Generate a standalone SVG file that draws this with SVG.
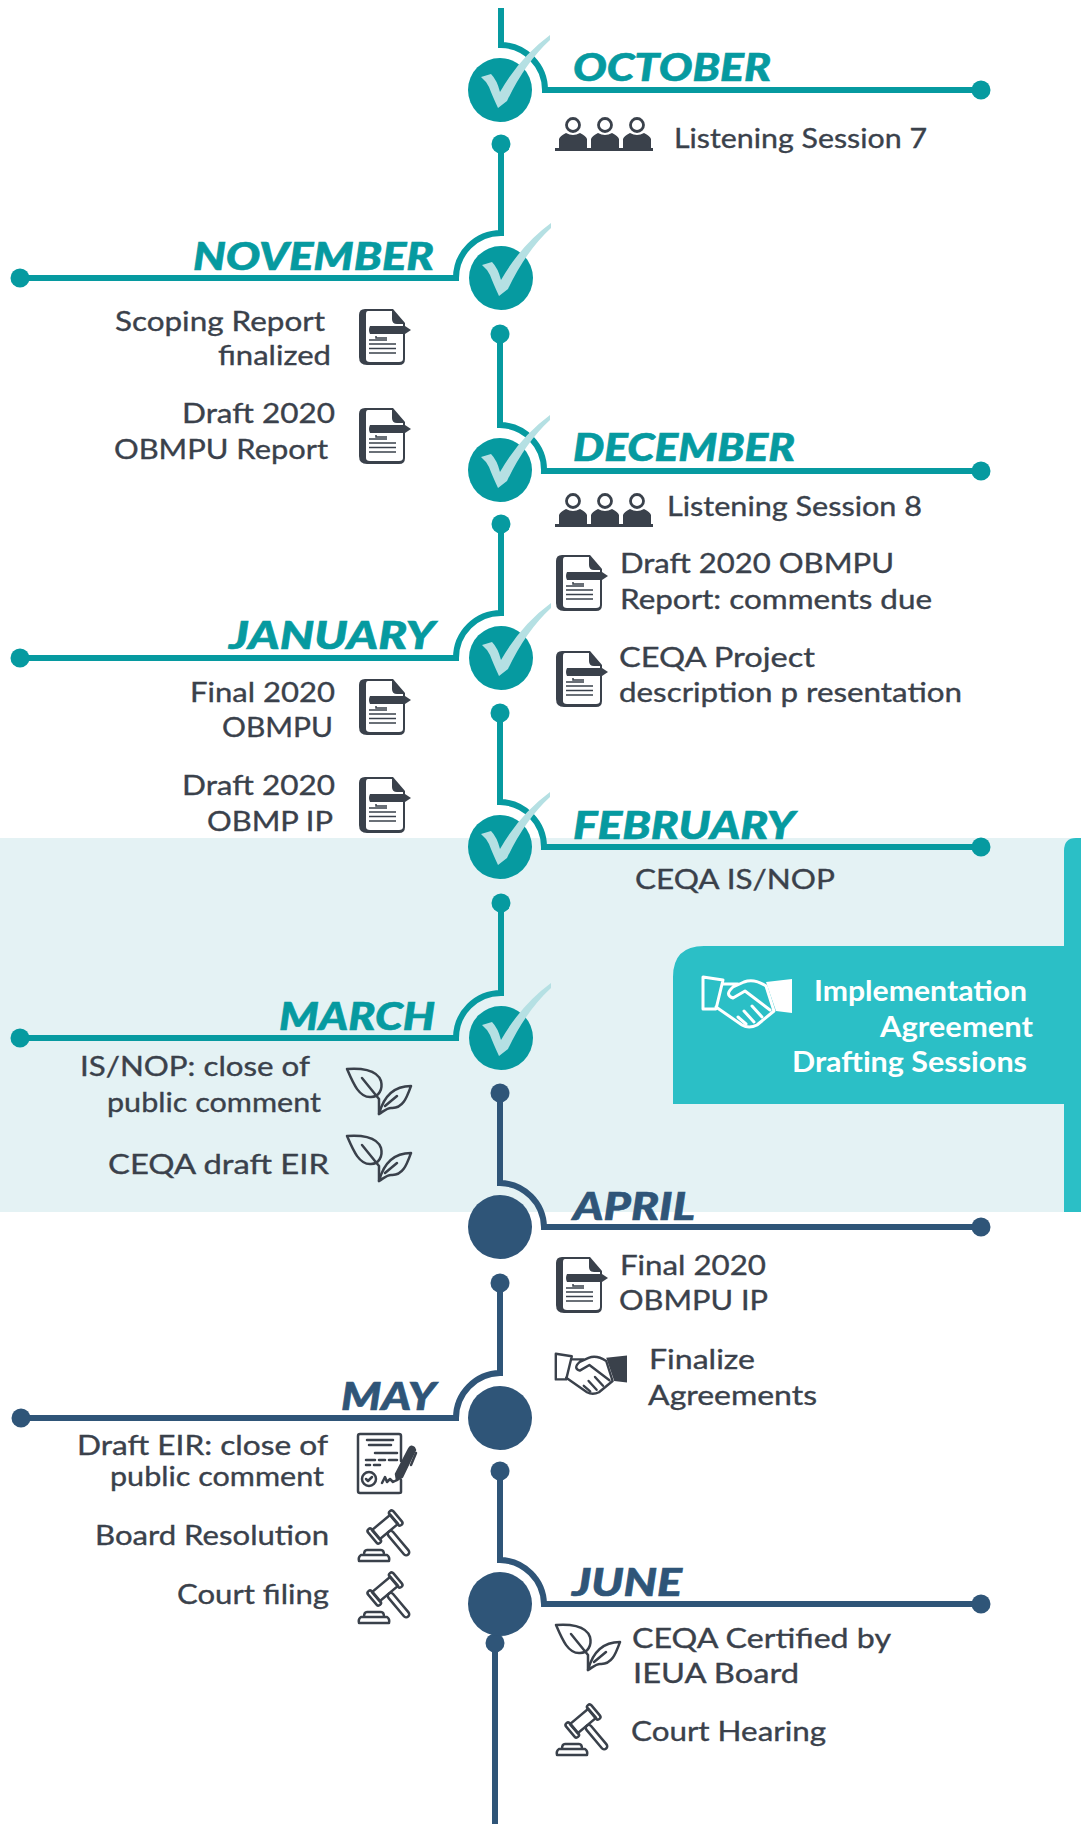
<svg xmlns="http://www.w3.org/2000/svg" xmlns:xlink="http://www.w3.org/1999/xlink" width="1081" height="1824" viewBox="0 0 1081 1824">
<style>
.t{font-family:"Lato","Liberation Sans",sans-serif;font-size:27px;fill:#3a414b;font-weight:400;stroke:#3a414b;stroke-width:.35px}
.w{font-family:"Lato","Liberation Sans",sans-serif;font-size:29px;fill:#fff;font-weight:700}
.m{font-family:"Lato","Liberation Sans",sans-serif;font-size:37px;font-weight:900;font-style:italic;stroke-width:.6px}
.tc{fill:#069aa0}.nv{fill:#2f5578}
.m.tc{stroke:#069aa0}.m.nv{stroke:#2f5578}
.ct{fill:none;stroke:#069aa0;stroke-width:6}.cn{fill:none;stroke:#2f5578;stroke-width:6}
.ol{fill:none;stroke:#3a414b;stroke-width:2.5;stroke-linecap:round;stroke-linejoin:round}
.d{fill:#3a414b}
</style>
<defs>
<path id="tick" fill="#b5e0e3" d="M-19,-13 L-9,-16 Q-3,-10 0,2 Q20,-33 50,-55 L50,-50 Q25,-27 7,11 L-2,18 Q-8,5 -11,-3 Q-14,-9 -19,-13Z"/>
<g id="doc">
<path class="d" d="M6,0 H34 L46,14 V50 Q46,56 40,56 H8 Q0,56 0,48 V6 Q0,0 6,0Z"/>
<path fill="#fff" d="M9,2 H33 L44,15 V50 Q44,53 40,53 H11 Q7,53 7,50 V5 Q7,2 9,2Z"/>
<path class="d" d="M33,1 L46,15 H38 Q33,15 33,10Z"/>
<path class="d" d="M11,17 H46 L52,21 L46,25 H11 Q9,21 11,17Z"/>
<path fill="none" stroke="#3a414b" stroke-width="1.500" d="M17,27 V29 H28 M10,31 H28 M10,35 H37 M10,39.500 H37 M10,44 H37"/>
</g>
<g id="person">
<circle cx="16" cy="9" r="6.500" fill="none" stroke="#3a414b" stroke-width="2.800"/>
<path class="d" d="M2,33 V23 Q3,20 9,17 Q16,21 23,17 Q29,20 30,23 V33Z"/>
</g>
<g id="people">
<use xlink:href="#person" x="2"/><use xlink:href="#person" x="34"/><use xlink:href="#person" x="66"/>
<rect y="32" width="98" height="3" class="d"/>
</g>
<g id="shake" fill="none" stroke="currentColor" stroke-width="3" stroke-linejoin="round" stroke-linecap="round">
<path d="M1,1 L21,4 L14,33 H1Z"/>
<path fill="currentColor" stroke="none" d="M64,6 L90,3 V37 L74,35Z"/>
<path d="M21,8 H36 M14,31 L40,49 Q47,53 55,49 L72,35 L64,10 Q52,2 42,6 L31,11 Q22,19 31,22 L43,15 L68,34"/>
<path d="M44,48 L36,41 M52,46 L42,35 M60,41 L50,30"/>
</g>
<g id="leaf" class="ol">
<path d="M0,0 C12,-1 30,0 34,12 C36,20 32,28 24,28 C12,29 6,14 0,0Z"/>
<path d="M15,9 L32,30 V45"/>
<path d="M32,45 C36,30 44,17 64,17 C60,28 56,40 44,39 C40,39 37,42 32,45Z"/>
<path d="M38,37 L50,27"/>
</g>
<g id="gavel" class="ol">
<path d="M1,51 Q0,47 3,45 H29 Q32,47 31,51Z M6,45 Q6,40 9,40 H23 Q26,40 26,45"/>
<g transform="translate(27,17) rotate(50)">
<rect x="-6" y="-12" width="12" height="24"/>
<rect x="-9" y="-16.500" width="18" height="5" rx="2.500"/>
<rect x="-9" y="11.500" width="18" height="5" rx="2.500"/>
<rect x="6" y="-3" width="30" height="6" rx="3"/>
</g>
</g>
<g id="contract" class="ol">
<path d="M44,47 V59 Q44,60 42,60 H3 Q1,60 1,58 V3 Q1,1 3,1 H42 Q44,1 44,3 V28"/>
<path d="M10,7 H36 M12,12 H34 M18,20 H40 M9,27 H18 M22,27 H28 M32,27 H40 M9,32 H13 M17,32 H23"/>
<circle cx="12" cy="46" r="7"/><path d="M9,46 L11,48 L15,44"/>
<path d="M25,50 L28,44 L30,49 L33,46 L36,49 L40,47"/>
<path fill="#3a414b" d="M39,41 L52,16 Q54,12 57,15 L58,17 L45,44 L40,47Z"/>
<path d="M59,20 L54,32"/>
</g>
</defs>
<rect id="band" y="838" width="1081" height="374" fill="#e4f2f4"/>
<g id="implementation-box">
<path fill="#2bbfc6" d="M1081,838 H1076 Q1064,838 1064,851 V946 H704 Q673,946 673,977 V1104 H1064 V1212 H1081Z"/>
<use xlink:href="#shake" x="702" y="976" color="#fff"/>
<text class="w" x="814" y="1001" textLength="213" lengthAdjust="spacingAndGlyphs">Implementation</text>
<text class="w" x="880" y="1037" textLength="153" lengthAdjust="spacingAndGlyphs">Agreement</text>
<text class="w" x="792" y="1072" textLength="235" lengthAdjust="spacingAndGlyphs">Drafting Sessions</text>
</g>
<g id="connectors">
<path class="ct" d="M501,8 V45 A45,45 0 0 1 545,90 H981"/>
<path class="ct" d="M501,144 V233 A45,45 0 0 0 456,278 H20"/>
<path class="ct" d="M500,334 V425 A45,45 0 0 1 544,471 H981"/>
<path class="ct" d="M501,524 V613 A45,45 0 0 0 456,658 H20"/>
<path class="ct" d="M500,713 V802 A45,45 0 0 1 544,847 H981"/>
<path class="ct" d="M501,903 V993 A45,45 0 0 0 456,1038 H20"/>
<path class="cn" d="M500,1093 V1183 A45,45 0 0 1 544,1227 H981"/>
<path class="cn" d="M500,1283 V1373 A45,45 0 0 0 456,1418 H21"/>
<path class="cn" d="M500,1471 V1560 A45,45 0 0 1 544,1604 H981"/>
<path class="cn" d="M495,1643 V1824"/>
<g class="tc">
<circle cx="981" cy="90" r="9.500"/><circle cx="501" cy="144" r="9.500"/>
<circle cx="20" cy="278" r="9.500"/><circle cx="500" cy="334" r="9.500"/>
<circle cx="981" cy="471" r="9.500"/><circle cx="501" cy="524" r="9.500"/>
<circle cx="20" cy="658" r="9.500"/><circle cx="500" cy="713" r="9.500"/>
<circle cx="981" cy="847" r="9.500"/><circle cx="501" cy="903" r="9.500"/>
<circle cx="20" cy="1038" r="9.500"/>
</g>
<g class="nv">
<circle cx="500" cy="1093" r="9.500"/><circle cx="981" cy="1227" r="9.500"/>
<circle cx="500" cy="1283" r="9.500"/><circle cx="21" cy="1418" r="9.500"/>
<circle cx="500" cy="1471" r="9.500"/><circle cx="981" cy="1604" r="9.500"/>
<circle cx="495" cy="1643" r="9.500"/>
</g>
</g>
<g id="october">
<circle class="tc" cx="500" cy="90" r="32"/><use xlink:href="#tick" x="500" y="90"/>
<text class="m tc" x="573" y="81" textLength="198" lengthAdjust="spacingAndGlyphs">OCTOBER</text>
<use xlink:href="#people" x="555" y="116"/>
<text class="t" x="674" y="148" textLength="253" lengthAdjust="spacingAndGlyphs">Listening Session 7</text>
</g>
<g id="november">
<circle class="tc" cx="501" cy="278" r="32"/><use xlink:href="#tick" x="501" y="278"/>
<text class="m tc" x="193" y="270" textLength="241" lengthAdjust="spacingAndGlyphs">NOVEMBER</text>
<text class="t" x="115" y="331" textLength="210" lengthAdjust="spacingAndGlyphs">Scoping Report</text>
<text class="t" x="218" y="365" textLength="113" lengthAdjust="spacingAndGlyphs">finalized</text>
<use xlink:href="#doc" x="359" y="309"/>
<text class="t" x="182" y="423" textLength="153" lengthAdjust="spacingAndGlyphs">Draft 2020</text>
<text class="t" x="114" y="459" textLength="214" lengthAdjust="spacingAndGlyphs">OBMPU Report</text>
<use xlink:href="#doc" x="359" y="408"/>
</g>
<g id="december">
<circle class="tc" cx="500" cy="470" r="32"/><use xlink:href="#tick" x="500" y="470"/>
<text class="m tc" x="573" y="461" textLength="222" lengthAdjust="spacingAndGlyphs">DECEMBER</text>
<use xlink:href="#people" x="555" y="492"/>
<text class="t" x="667" y="516" textLength="255" lengthAdjust="spacingAndGlyphs">Listening Session 8</text>
<use xlink:href="#doc" x="556" y="555"/>
<text class="t" x="620" y="573" textLength="274" lengthAdjust="spacingAndGlyphs">Draft 2020 OBMPU</text>
<text class="t" x="620" y="609" textLength="312" lengthAdjust="spacingAndGlyphs">Report: comments due</text>
<use xlink:href="#doc" x="556" y="651"/>
<text class="t" x="619" y="667" textLength="196" lengthAdjust="spacingAndGlyphs">CEQA Project</text>
<text class="t" x="619" y="702" textLength="343" lengthAdjust="spacingAndGlyphs">description p resentation</text>
</g>
<g id="january">
<circle class="tc" cx="501" cy="658" r="32"/><use xlink:href="#tick" x="501" y="658"/>
<text class="m tc" x="229" y="649" textLength="206" lengthAdjust="spacingAndGlyphs">JANUARY</text>
<text class="t" x="190" y="702" textLength="145" lengthAdjust="spacingAndGlyphs">Final 2020</text>
<text class="t" x="222" y="737" textLength="111" lengthAdjust="spacingAndGlyphs">OBMPU</text>
<use xlink:href="#doc" x="359" y="679"/>
<text class="t" x="182" y="795" textLength="153" lengthAdjust="spacingAndGlyphs">Draft 2020</text>
<text class="t" x="207" y="831" textLength="126" lengthAdjust="spacingAndGlyphs">OBMP IP</text>
<use xlink:href="#doc" x="359" y="777"/>
</g>
<g id="february">
<circle class="tc" cx="500" cy="847" r="32"/><use xlink:href="#tick" x="500" y="847"/>
<text class="m tc" x="573" y="839" textLength="222" lengthAdjust="spacingAndGlyphs">FEBRUARY</text>
<text class="t" x="635" y="889" textLength="200" lengthAdjust="spacingAndGlyphs">CEQA IS/NOP</text>
</g>
<g id="march">
<circle class="tc" cx="501" cy="1038" r="32"/><use xlink:href="#tick" x="501" y="1038"/>
<text class="m tc" x="279" y="1030" textLength="156" lengthAdjust="spacingAndGlyphs">MARCH</text>
<text class="t" x="80" y="1076" textLength="230" lengthAdjust="spacingAndGlyphs">IS/NOP: close of</text>
<text class="t" x="107" y="1112" textLength="214" lengthAdjust="spacingAndGlyphs">public comment</text>
<use xlink:href="#leaf" x="347" y="1069"/>
<text class="t" x="108" y="1174" textLength="221" lengthAdjust="spacingAndGlyphs">CEQA draft EIR</text>
<use xlink:href="#leaf" x="347" y="1136"/>
</g>
<g id="april">
<circle class="nv" cx="500" cy="1227" r="32"/>
<text class="m nv" x="573" y="1220" textLength="122" lengthAdjust="spacingAndGlyphs">APRIL</text>
<use xlink:href="#doc" x="556" y="1257"/>
<text class="t" x="620" y="1275" textLength="146" lengthAdjust="spacingAndGlyphs">Final 2020</text>
<text class="t" x="619" y="1310" textLength="149" lengthAdjust="spacingAndGlyphs">OBMPU IP</text>
<use xlink:href="#shake" transform="translate(555,1353) scale(.8)" color="#3a414b"/>
<text class="t" x="649" y="1369" textLength="106" lengthAdjust="spacingAndGlyphs">Finalize</text>
<text class="t" x="648" y="1405" textLength="169" lengthAdjust="spacingAndGlyphs">Agreements</text>
</g>
<g id="may">
<circle class="nv" cx="500" cy="1418" r="32"/>
<text class="m nv" x="341" y="1410" textLength="95" lengthAdjust="spacingAndGlyphs">MAY</text>
<text class="t" x="77" y="1455" textLength="251" lengthAdjust="spacingAndGlyphs">Draft EIR: close of</text>
<text class="t" x="110" y="1486" textLength="214" lengthAdjust="spacingAndGlyphs">public comment</text>
<use xlink:href="#contract" x="357" y="1433"/>
<text class="t" x="95" y="1545" textLength="234" lengthAdjust="spacingAndGlyphs">Board Resolution</text>
<use xlink:href="#gavel" x="358" y="1510"/>
<text class="t" x="177" y="1604" textLength="152" lengthAdjust="spacingAndGlyphs">Court filing</text>
<use xlink:href="#gavel" x="358" y="1572"/>
</g>
<g id="june">
<circle class="nv" cx="500" cy="1604" r="32"/>
<text class="m nv" x="572" y="1596" textLength="110" lengthAdjust="spacingAndGlyphs">JUNE</text>
<use xlink:href="#leaf" x="556" y="1625"/>
<text class="t" x="632" y="1648" textLength="259" lengthAdjust="spacingAndGlyphs">CEQA Certified by</text>
<text class="t" x="633" y="1683" textLength="166" lengthAdjust="spacingAndGlyphs">IEUA Board</text>
<use xlink:href="#gavel" x="556" y="1704"/>
<text class="t" x="631" y="1741" textLength="195" lengthAdjust="spacingAndGlyphs">Court Hearing</text>
</g>
</svg>
